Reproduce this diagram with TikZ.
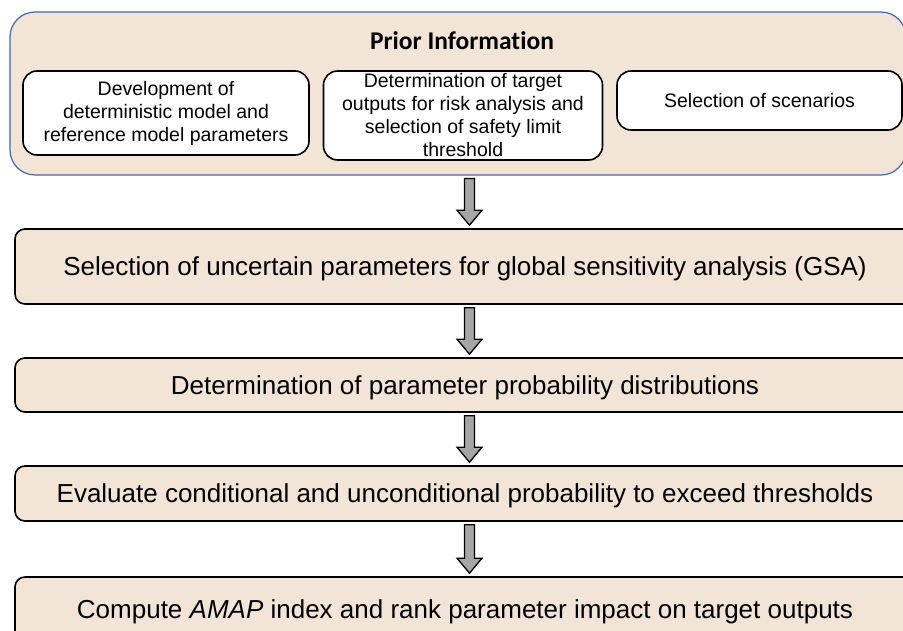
\documentclass[tikz,border=0pt]{standalone}
\usepackage{fontspec}
\setmainfont{Liberation Sans}
\newfontfamily\titlefont[Ligatures=NoCommon]{Carlito}
\usetikzlibrary{calc}

\definecolor{boxfill}{RGB}{242,228,214}
\definecolor{priorline}{RGB}{68,104,170}
\definecolor{arrowgray}{RGB}{166,166,166}

\tikzset{
    stepbox/.style={draw, line width=1.6pt, rounded corners=10pt, fill=boxfill,
        minimum width=900pt, text depth=0pt, font=\fontsize{26}{30}\selectfont},
    infobox/.style={draw, line width=1.6pt, rounded corners=14pt, fill=white,
        align=center, inner xsep=0pt, inner ysep=0pt, font=\fontsize{19.5}{23}\selectfont},
    blockarrow/.style={draw, line width=1.3pt, fill=arrowgray, line join=miter},
}

\newcommand{\flowarrow}[2]{%
    \draw[blockarrow] ($(arrx |- #1.south)+(-5,3)$) -- ($(arrx |- #1.south)+(5,3)$)
        -- ($(arrx |- #2.north)+(5,-18)$) -- ($(arrx |- #2.north)+(12.5,-18)$)
        -- ($(arrx |- #2.north)+(0,-3)$) -- ($(arrx |- #2.north)+(-12.5,-18)$)
        -- ($(arrx |- #2.north)+(-5,-18)$) -- cycle;}

\begin{document}
\begin{tikzpicture}[x=1pt, y=-1pt]
    \path[use as bounding box] (0, 0) rectangle (903, 631);
    \clip (0, 0) rectangle (903, 631);
    \coordinate (arrx) at (469.5, 0);

    \node[draw=priorline, line width=1.2pt, rounded corners=25pt, fill=boxfill,
        minimum width=896pt, minimum height=163pt] at (458, 93.5) (prior) {};
    \node[anchor=base, font=\titlefont\bfseries\fontsize{25.5}{30}\selectfont] at (462, 50) (title) {Prior Information};
    \node[infobox, minimum width=286pt, minimum height=84pt] at (166, 113) (model)
        {Development of\\deterministic model and\\reference model parameters};
    \node[infobox, minimum width=279pt, minimum height=89pt] at (463, 115.5) (target)
        {Determination of target\\outputs for risk analysis and\\selection of safety limit\\threshold};
    \node[infobox, minimum width=285pt, minimum height=59pt] at (759.5, 100.5) (scen)
        {Selection of scenarios};

    \node[stepbox, minimum height=75pt] at (465, 266.5) (gsa)
        {Selection of uncertain parameters for global sensitivity analysis (GSA)};
    \node[stepbox, minimum height=54pt] at (465, 385) (dist)
        {Determination of parameter probability distributions};
    \node[stepbox, minimum height=55pt] at (465, 493.5) (eval)
        {Evaluate conditional and unconditional probability to exceed thresholds};
    \node[stepbox, minimum height=64pt] at (465, 609) (amap)
        {Compute \textit{AMAP} index and rank parameter impact on target outputs};

    \flowarrow{prior}{gsa}
    \flowarrow{gsa}{dist}
    \flowarrow{dist}{eval}
    \flowarrow{eval}{amap}
\end{tikzpicture}
\end{document}
